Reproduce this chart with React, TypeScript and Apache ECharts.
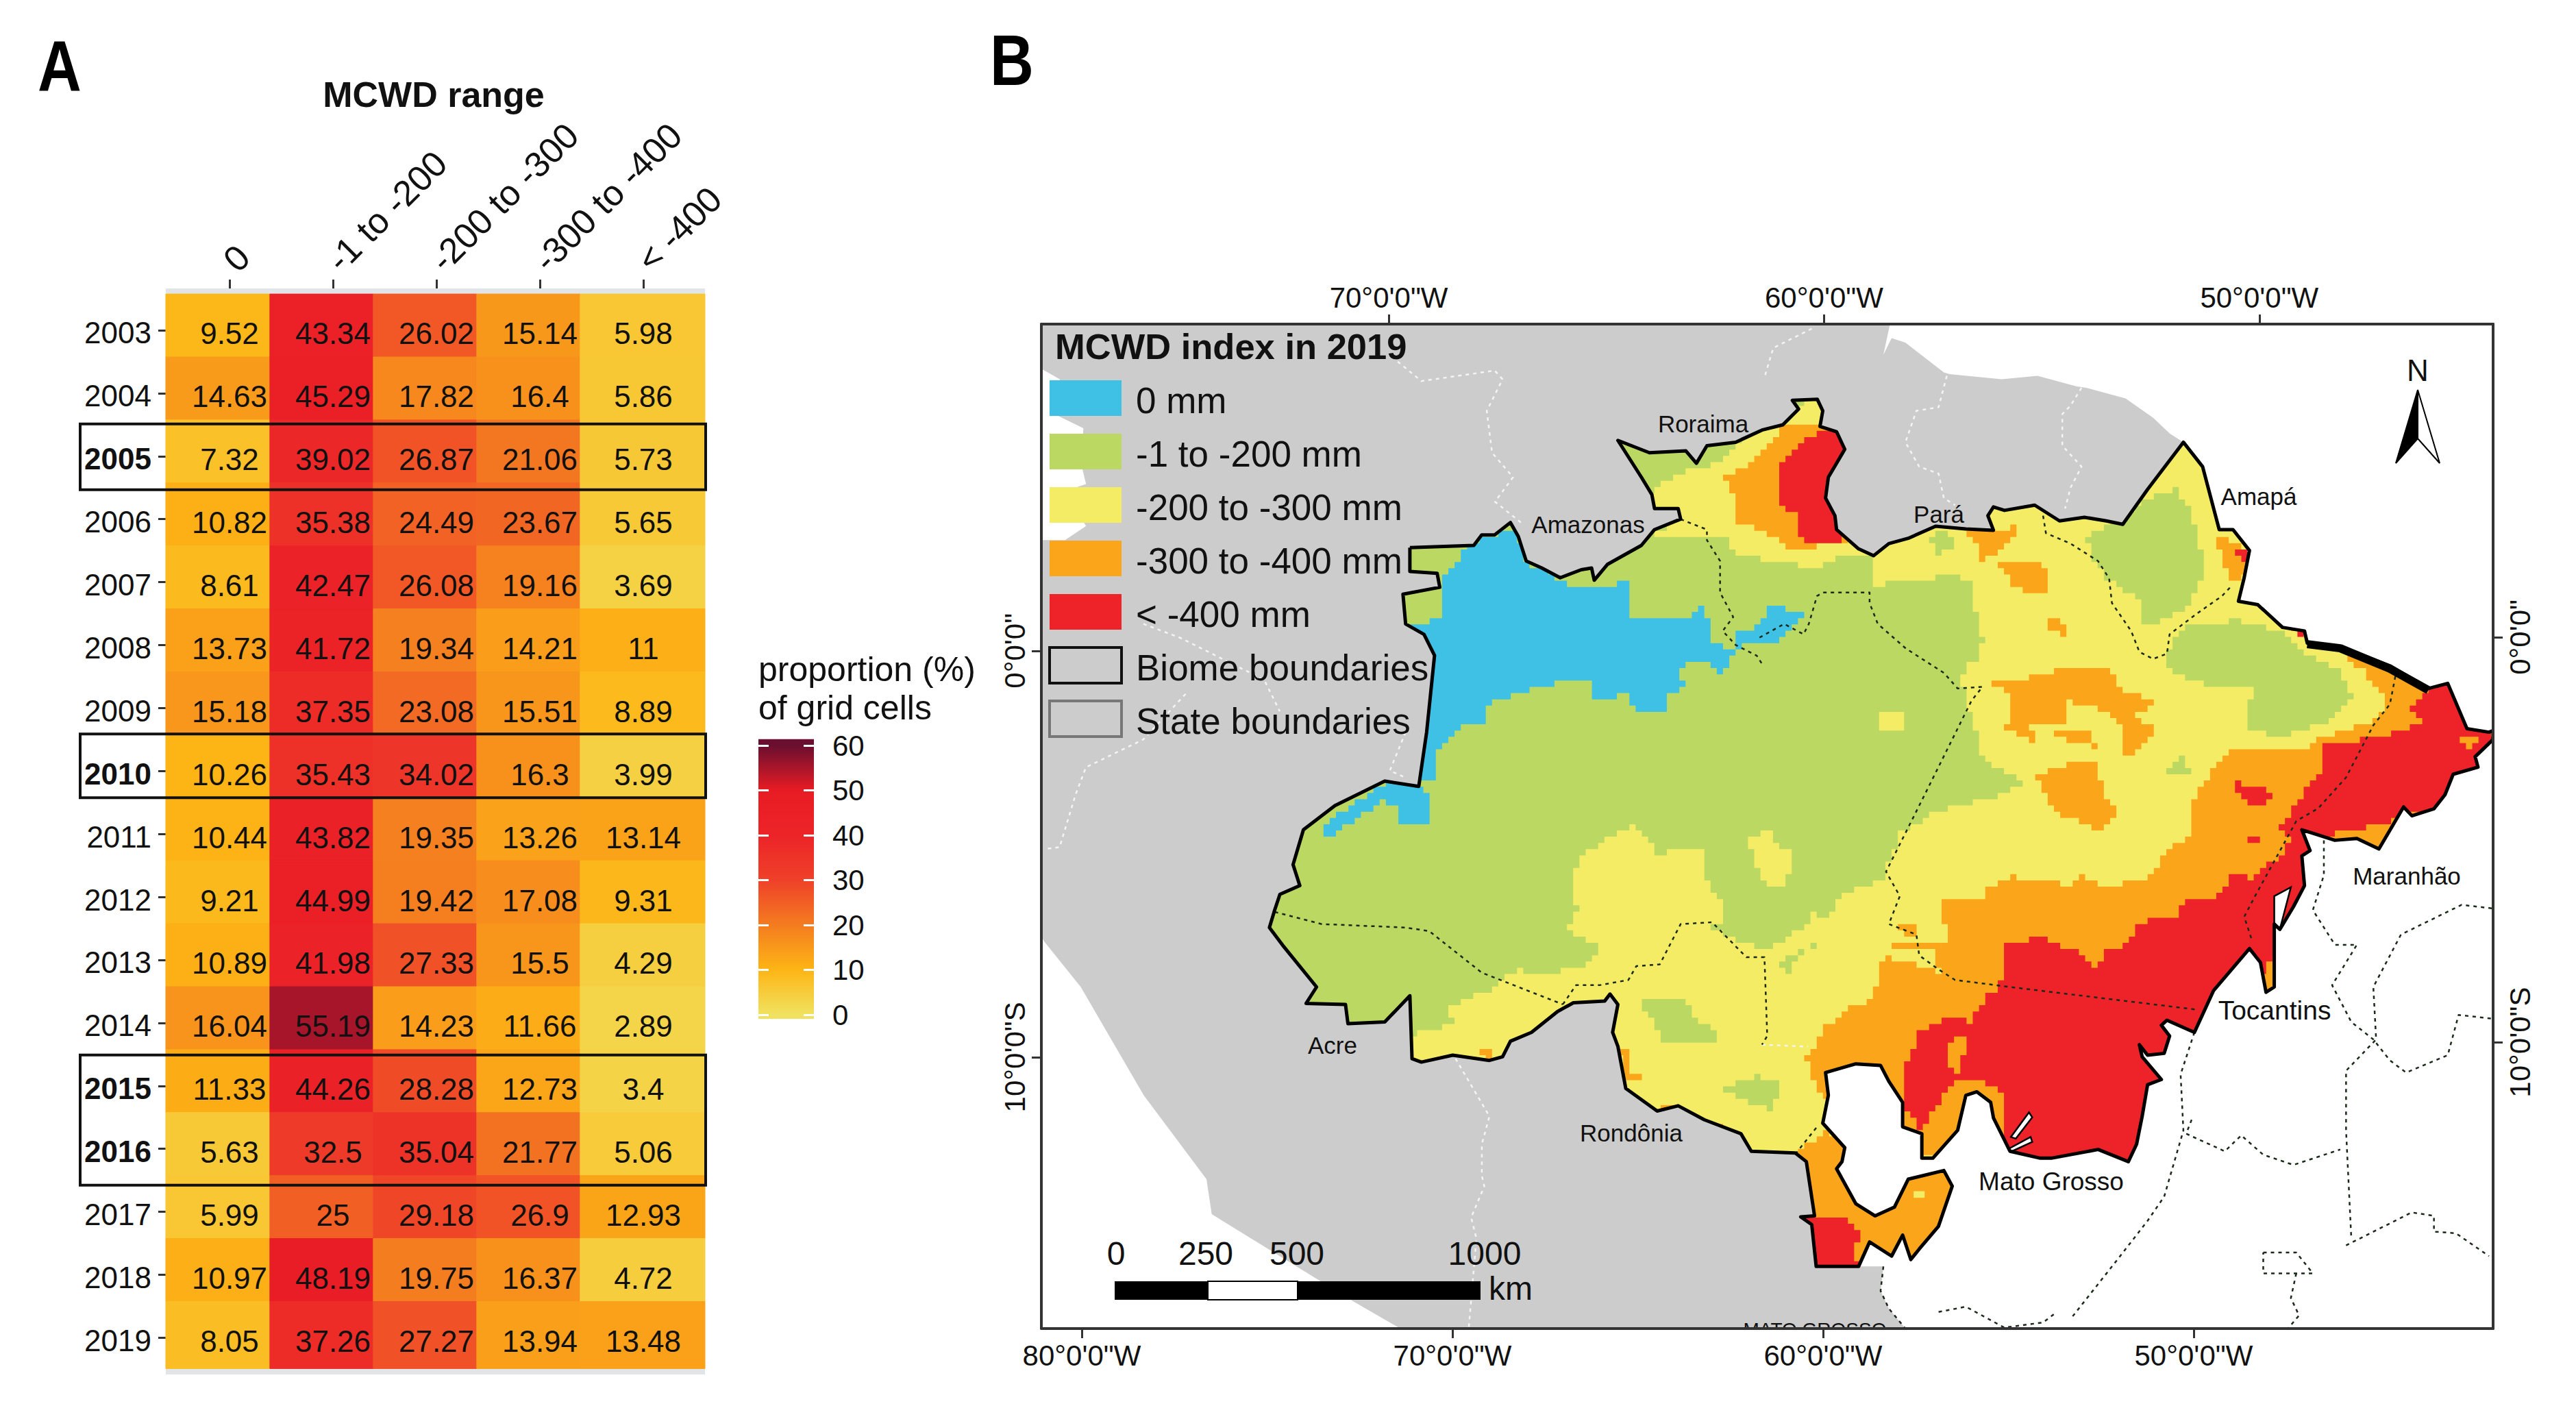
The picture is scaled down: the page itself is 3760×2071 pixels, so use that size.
import React, { useEffect, useRef } from "react";
import * as echarts from "echarts";

const FONT = "Liberation Sans";

// ---------- Panel A data ----------
const YEARS = ["2003","2004","2005","2006","2007","2008","2009","2010","2011","2012","2013","2014","2015","2016","2017","2018","2019"];
const RANGES = ["0","-1 to -200","-200 to -300","-300 to -400","< -400"];
const V0 = [9.52,14.63,7.32,10.82,8.61,13.73,15.18,10.26,10.44,9.21,10.89,16.04,11.33,5.63,5.99,10.97,8.05];
const V1 = [43.34,45.29,39.02,35.38,42.47,41.72,37.35,35.43,43.82,44.99,41.98,55.19,44.26,32.5,25,48.19,37.26];
const V2 = [26.02,17.82,26.87,24.49,26.08,19.34,23.08,34.02,19.35,19.42,27.33,14.23,28.28,35.04,29.18,19.75,27.27];
const V3 = [15.14,16.4,21.06,23.67,19.16,14.21,15.51,16.3,13.26,17.08,15.5,11.66,12.73,21.77,26.9,16.37,13.94];
const V4 = [5.98,5.86,5.73,5.65,3.69,11,8.89,3.99,13.14,9.31,4.29,2.89,3.4,5.06,12.93,4.72,13.48];
const BOLD_YEARS = ["2005","2010","2015","2016"];
const BOXED = [["2005","2005"],["2010","2010"],["2015","2016"]];
const BOX_PADS = [[47,49],[54,39],[45,53]];
const RAMP = ["#F0E260","#FDB515","#F47C20","#EF4129","#EC2428","#E81C24","#6A0F2F"];

// ---------- Panel B axes ----------
const TOP_LON = [-70,-60,-50];
const BOTTOM_LON = [-80,-70,-60,-50];
const LATS = [0,-10];

// ---------- Panel B traced regions (map units) ----------
const BIOME_NORTH = [[858.2,333.3],[897.1,331.9],[901.9,325.5],[909.8,325.5],[919.4,318],[924.2,326.5],[929,341.4],[938.5,345.7],[949.7,351.6],[962.5,346.7],[968.8,345.7],[970.4,353.1],[978.4,343.5],[999.1,331.9],[1007.1,322.3],[1023,315.9],[1021.5,309.5],[1007.1,309.5],[1005.5,301],[999.1,290.4],[984.8,268],[1004,275.5],[1026.2,274.4],[1032.6,281.9],[1039,271.2],[1056.5,269.1],[1072.5,261.7],[1085.2,258.5],[1094.8,248.9],[1091,243.6],[1106.2,243],[1109.5,250],[1107.8,259.5],[1117.9,262.7],[1122.9,273.4],[1112.9,290.4],[1111.2,303.1],[1116.9,313.8],[1117.9,322.3],[1131.3,334],[1140.4,338.2],[1149.7,330.8],[1161.5,327.6],[1178.2,320.2],[1196.6,321.9],[1213.4,322.7],[1210,313.8],[1213.4,308.5],[1220.1,310.6],[1238.5,307.4],[1253.6,317],[1268.7,314.8],[1282.1,317],[1292.1,319.1],[1307.2,297.8],[1329,269.1]];
const BIOME_EAST = [[1340.7,284],[1350.8,322.3],[1359.2,322.3],[1369.2,335],[1365.9,352],[1362.5,365.9],[1374.3,368],[1389.3,381.8],[1402.7,384],[1404.4,391.4],[1424.5,393.5],[1454.7,405.2],[1478.1,419],[1489.9,415.9],[1501.6,443.5],[1515,445.6],[1517.5,444.6],[1517.5,450],[1506.6,460.5],[1508.3,466.9],[1493.2,471.2],[1488.2,483.7],[1481.5,492.2],[1468.1,496.5],[1463,491.1],[1448,516.7],[1434.6,510.3],[1421.2,511.4],[1407.8,507.1],[1401.1,505],[1406.1,517.7],[1401.1,520.9],[1402.7,539],[1396,551.8],[1387.7,565.6],[1384.3,562.4],[1384.3,600.7],[1379.3,603.9],[1375.9,585.8],[1369.2,577.3],[1347.4,602.8],[1335.7,628.3],[1319,620.9],[1315.6,624],[1320.6,630.5],[1317.3,641.1],[1307.2,642.2],[1302.2,635.8],[1303.9,643.2],[1315.6,657],[1307.2,660.2],[1303.9,679.4],[1300.5,696.4],[1295.5,707],[1277.1,699.6],[1248.6,704.9],[1241.9,704.9],[1223.5,700.7],[1213.4,680.4],[1211.7,670.9],[1203.3,664.5],[1196.6,666.6],[1191.6,687.9],[1176.5,704.9],[1169.8,704.9],[1169.8,690],[1158.1,685.8],[1158.1,670.9],[1149.7,658.1],[1144.7,648.5],[1129.6,647.5],[1111.2,652.8],[1112.9,666.6],[1109.5,683.6],[1122.9,698.5],[1121.2,707],[1117.9,711.3],[1129.6,732.6],[1141.4,740],[1153.1,734.7],[1161.5,717.7],[1183.2,712.4],[1188.3,721.9],[1179.9,746.4],[1168.2,760.2],[1163.1,766.6],[1158.1,751.7],[1151.4,764.5],[1138,755.9],[1131.3,770.8]];
const BIOME_WEST = [[1105.5,770.8],[1102.8,745.3],[1096.1,740.6],[1104.5,740],[1099.5,707],[1092.8,701.7],[1066,700.7],[1059.7,690],[1037.4,681.5],[1021.5,673],[1008.7,676.2],[989.6,662.4],[984.8,636.8],[981.6,628.3],[984.8,611.3],[980,605],[976.8,609.2],[957.7,610.3],[948.1,615.6],[932.2,628.3],[919.4,633.7],[914.6,643.2],[906.6,645.4],[884.3,642.2],[865.2,646.4],[859.5,644.3],[858.2,606],[842.9,622],[820.5,623],[819,611.3],[795,610.7],[801.4,600.7],[780.7,575.2],[772.7,564.5],[775.9,553.9],[779.1,544.3],[791.2,539],[787.1,526.2],[793.4,505],[812.6,490.3],[842.9,475.4],[863.6,478.6],[868.4,445.6],[873.2,398.9],[866.8,386.1],[855.6,379.7],[854,361.6],[876.4,357.4],[874.8,348.9],[858.2,347.8]];
const GRAY_COAST = [[633.9,197.2],[1150.4,197.2],[1146.4,215.9],[1151.4,205.7],[1159.8,208.5],[1183.2,226.6],[1186.6,227.6],[1218.4,230.8],[1240.2,228.7],[1263.7,235],[1270.4,236.1],[1293.8,242.5],[1310.6,254.2],[1320.7,263.8]];
const GRAY_SOUTH = [[1146.4,770.8],[1144.7,785.7],[1149.7,796.4],[1159.8,808.6],[852.4,808.6],[823.7,792],[737.6,739],[734.4,717.7],[696.2,666.6],[657.9,600.7],[635.6,573],[633.9,570],[633.9,328.7],[648.3,328.7],[661.1,320.1],[648.3,298.9],[661.1,294.6],[658,281.9],[659.5,260.6],[642,252],[645.1,230.8],[633.9,224.4]];

const GREEN_PATCHES = [
  [[1270.4,326.5],[1307.2,303.1],[1324,296.8],[1334,315.9],[1339,332.9],[1340.7,352],[1334,369],[1307.2,381.8],[1300.5,362.7],[1283.8,352],[1273.7,339.3]],
  [[1317.3,394.6],[1330.7,379.7],[1360.8,377.6],[1387.7,384],[1397.7,395.7],[1421.2,407.4],[1432.9,426.5],[1417.8,439.3],[1391,447.8],[1365.9,443.5],[1371,418],[1340.7,415.9],[1320.6,405.2]],
  [[1317,471],[1327,461.6],[1334,471]],
  [[999,609],[1024.7,609],[1031,619.8],[1047,632.6],[1015,636.8],[1012,630.5]],
  [[1049,662],[1066,653.9],[1084,660],[1079,675],[1062.6,668.7]],
  [[1083,583.7],[1106,575],[1089,594]],
  [[1176,326],[1183,322],[1190,335],[1178,337]],
];
const YELLOW_MAIN = [[996,502.8],[964,519.9],[956,539],[961,556],[954.5,566.6],[976.8,579.4],[961,590],[938.5,592],[925.8,590],[906.6,602.8],[881.1,613.4],[884.3,624],[860.4,630.5],[850,660],[1100,720],[1530,700],[1530,300],[1400,300],[1330,260],[1140,300],[1120,240],[1060,255],[1060,271],[1047,282],[1028,286],[1008.7,296.8],[1000,310],[1023,316],[1008.7,326.5],[1037.4,326.5],[1053,328.7],[1055,337],[1079,341.4],[1100.5,345.7],[1123,336],[1140,339],[1140,356],[1160,353],[1190,350],[1200,356],[1201.7,373],[1206.7,390],[1203,401],[1193,414],[1200,435],[1207,465],[1233,477.6],[1220,483.7],[1183,494],[1158,507],[1146,535],[1123,545],[1113,560],[1101,555],[1100.5,562.4],[1078.9,577.3],[1059.7,573],[1042.2,562.4],[1050.1,558.1],[1050.1,545.4],[1035.8,532.6],[1037.4,515.6],[1012,519.9]];
const YELLOW_SPOTS = [
  [[1144.7,435],[1153,431.8],[1159.8,435],[1158,445.6],[1144.7,445.6]],
  [[1065,510],[1075,505],[1090,522],[1088,540],[1078,538],[1068,525]],
];
const ORANGE = [
  [[1047.5,290.4],[1059.3,284],[1076,271.2],[1084.4,258.5],[1104.5,258.5],[1126,260.6],[1126,290],[1123,328.7],[1092.8,336.1],[1076,322.3],[1056,317],[1057.6,301]],
  [[1198.3,324.4],[1213.4,323.3],[1225,319],[1227,326.5],[1218.4,335],[1206.7,342.5],[1205,328.7]],
  [[1216.8,341.4],[1243.6,343.5],[1246.9,359.5],[1233.5,360.6],[1223.5,354.2],[1220,347.8]],
  [[1245,375.5],[1257,379.7],[1257,387],[1247,379.7]],
  [[1349,325.5],[1361,330.8],[1367.5,347.8],[1361,355.2],[1354,343.5]],
  [[1211.7,415.9],[1240.2,411.6],[1257,405.2],[1283.8,405.2],[1290.5,422.3],[1310.6,424.4],[1308.9,431.8],[1297.2,432.9],[1312.3,445.6],[1300.5,460.5],[1290.5,456.3],[1292.2,439.3],[1277.1,430.8],[1257,426.5],[1257,439.3],[1233.5,441.4],[1240.2,452],[1220.1,443.5],[1225.1,428.6],[1220.1,418]],
  [[1250.3,445.6],[1273.7,443.5],[1275.4,454.2],[1260.3,452]],
  [[1240.2,471.2],[1257,464.8],[1273.7,464.8],[1283.8,490.3],[1290.5,494.3],[1280.4,505],[1257,496.5],[1245.2,483.7]],
  [[1427.9,398.9],[1444.6,418],[1453,428.6],[1444.6,439.3],[1407.8,452],[1404.4,457.3],[1359,457.3],[1344,473.3],[1339,484],[1334,490],[1334,509],[1317.3,519.9],[1310.6,533.7],[1285.4,540],[1267,530.5],[1260.3,538],[1247,536.9],[1225,532.6],[1213.4,540],[1206.7,546.4],[1183.2,546.4],[1181.6,558],[1186.6,573],[1175,582.6],[1180,591],[1148,581.5],[1143,596.4],[1139.7,609],[1123,615.6],[1111,627.3],[1099.5,645.4],[1106,664.5],[1120,680],[1160,700],[1300,720],[1500,600],[1530,460],[1490,405]],
  [[1107.8,687.9],[1129.6,696.4],[1150,716],[1190,705],[1195,750],[1166.5,770],[1133,775],[1096,775],[1096,705],[1092,702]],
  [[986,637],[993,637],[991,649.6],[999,656],[989,656]],
  [[1012,673],[1021,675],[1012,677]],
  [[902,639],[911.4,639],[906.6,645.4]],
  [[1043.8,685.8],[1059.7,691],[1056.5,693]],
  [[1154.8,562.4],[1166.5,561.3],[1166.5,568.8],[1156.4,567.7]],
  [[1151.4,575],[1180,574],[1180,577],[1151.4,578]],
];
const RED = [
  [[1092.8,269.1],[1107.8,260.6],[1123,260.6],[1126,273.4],[1119.6,290.4],[1119.6,328.7],[1106.2,330.8],[1092.8,323.3],[1094.4,311.6],[1082.7,304.2],[1082.7,279.7],[1091,277.6]],
  [[1478,422.3],[1468,432.9],[1474.8,441.4],[1444.6,449.9],[1412.8,452],[1414.5,466.9],[1402.7,484],[1394.4,498.6],[1387.7,506],[1394.4,511.4],[1387.7,523],[1372.6,534.7],[1357.5,530.5],[1354.1,544.3],[1330.7,549.6],[1325.7,558.1],[1303.9,561.3],[1297.2,573],[1283.8,579.4],[1277.1,590],[1270.4,581.5],[1257,577.3],[1246.9,570.9],[1220.1,573],[1218.4,596.4],[1210,609.2],[1200,622],[1183.2,617.7],[1178.2,625],[1166.5,626.2],[1168.2,636.8],[1158.1,653.9],[1158,675],[1168.2,687.9],[1176.5,675],[1188.3,659.2],[1206.7,658],[1218.4,666.6],[1218,705],[1300,715],[1340,640],[1400,560],[1410,510],[1490,490],[1520,450],[1510,430],[1490,410]],
  [[1097.8,740],[1118,740],[1133,749.6],[1129.6,764.5],[1131.3,775],[1103,775]],
  [[1359,475.4],[1369,479.7],[1377.6,479.7],[1384,481.8],[1381,490],[1377.6,492],[1369,488]],
  [[1369,508],[1381,507],[1372.6,514.5]],
  [[1361,334],[1369,335],[1367.5,341.4]],
  [[1394.4,381.8],[1402.7,381.8],[1402.7,387]],
];
const ORANGE_ON_RED = [
  [[1188.3,632.6],[1200,631.5],[1191.6,651.7],[1183.2,650.7]],
  [[1496.5,447.8],[1511.6,449.9],[1501.6,456.3]],
];
const YELLOW_ON_ORANGE = [
  [[1164.8,725],[1171.5,725],[1171.5,729],[1164.8,729]],
];
const BLUE = [
  [[919.4,322.3],[889.1,335],[889.1,343.5],[878,349.9],[878,377.6],[857.2,379.7],[855.6,392.5],[855.6,473.3],[866.8,473.3],[874.8,473.3],[874.8,456.3],[887.5,441.4],[903.5,439.3],[903.5,430.8],[919.4,422.3],[949.7,414.8],[965.6,415.9],[970.4,424.4],[991.2,423.3],[994.3,432.9],[1011.9,432.9],[1015.1,422.3],[1027.8,415.9],[1021.5,405.2],[1037.4,403.1],[1047,411.6],[1056.5,396.7],[1043.8,390.3],[1037.4,369.1],[1029.4,375.5],[991.2,375.5],[991.2,352.1],[980,358.4],[957.7,356.3],[949.7,351.6],[938.5,345.7],[929,341.4],[924,326]],
  [[1076,367],[1097.8,375.5],[1089.4,384],[1084.4,391.4],[1059.3,393.5],[1055.9,385],[1071,379.7]],
  [[800,505],[845,475],[865,478],[872,490],[870,500],[858,503],[850,497],[852,490],[842,488],[825,500],[815,510]],
  [[1404.4,392.5],[1406,393.5],[1401,403],[1399.4,402]],
];
const ISLANDS = [
  [[1384.3,545.4],[1394.4,540],[1387.7,565.6],[1384.3,562.4]],
  [[1235,677],[1224,692],[1227,693],[1237,680]],
  [[1236,692],[1223,699],[1224,701],[1237,695]],
];
const THICK_COAST = [[1404.4,392],[1424.5,394.5],[1454.7,407],[1478.1,420]];
const STATE_LINES_DARK = [
  [[1023,316],[1039,322.3],[1039,328.7],[1047,341.4],[1047,360.6],[1055,375.5],[1048.6,384],[1056.5,392.5],[1069.3,399],[1072.5,404]],
  [[1071,388],[1086,379.7],[1097.8,386],[1101,379.7],[1106,362.7],[1109.5,360.6],[1138,360.6],[1138,367],[1143,379.7],[1160,394.6],[1183.2,409.5],[1191.6,419],[1206.7,418],[1200,426.5],[1171.5,483.7],[1148,530.5],[1156.4,545.4],[1149.7,562.4],[1166.5,568.8],[1168.2,581.5],[1180,590],[1190,596.4],[1223.5,600.7],[1337.4,614.5]],
  [[776,555],[804.6,562.4],[855.6,564.5],[870,566.7],[902,592],[951.3,611.3]],
  [[951.3,611.3],[959.3,599.6],[973.6,599.6],[991.2,596.4],[996,588],[1010.3,586.9],[1023,562.4],[1042.2,561.3],[1063,582.6],[1074,582.6],[1075.7,630.5],[1072.5,635.8]],
  [[1092.8,702.4],[1106,685.8]],
  [[1243.6,313.8],[1245.3,324.4],[1260.3,330.8],[1277,341.4],[1283.8,352],[1285.5,367],[1297.2,384],[1302.2,396.7],[1310.6,401],[1319,397.8],[1320.6,386],[1337.4,373.3],[1352.5,362.7],[1357.5,357.4]],
  [[1458,411.6],[1454.7,428.6],[1444.6,441.4],[1427.9,473.3],[1411,492],[1397.7,499.7],[1372.6,545.4],[1366,558],[1371,573]],
  [[1414.5,511.4],[1414.5,532.6],[1407.8,553.9],[1421.2,575],[1434.6,575],[1419.5,599.6],[1431.2,622],[1444.6,632.6],[1454.7,645.4],[1464.6,652.8],[1489.9,642.2],[1496.5,617.7],[1517,620]],
  [[1516.7,552.8],[1498.3,550.7],[1461.4,568.8],[1444.6,600.7],[1446.3,632.6],[1428,651.7],[1428,688],[1431.2,753.8]],
  [[1335.7,628.3],[1327.3,653.9],[1329,688],[1317.3,728.3],[1307.2,743],[1290.5,764.5],[1260.3,802.8]],
  [[1334,681.5],[1330.7,690],[1354.2,700.7],[1364.2,691],[1377.6,702.8],[1396,709],[1424.5,699.6]],
  [[1428,758],[1468,737.9],[1481.5,740],[1481.5,749.6],[1494.9,750.6],[1515,764.5]],
  [[1377.6,762.3],[1397.7,762.3],[1407.8,775],[1377.6,775],[1377.6,762.3]],
  [[1397.7,775],[1394.4,790],[1399.4,800.6],[1392.7,808.5]],
  [[1180,798.5],[1196.6,795.3],[1220,808],[1243.6,804.9],[1252,798.5]],
  [[1146.4,770.8],[1144.7,785.7],[1149.7,796.4],[1159.8,808.6]],
];
const STATE_LINES_LIGHT = [
  [[850.8,220],[865.2,231.9],[909.8,225.5],[914.6,230.8],[905,250],[908.2,275.5],[921,290.4],[910,305.3],[925.8,318]],
  [[1102.8,200],[1079.4,211.7],[1074.3,228.7]],
  [[1185,228.7],[1180,247.8],[1166.5,250],[1159.8,269.1],[1168.2,284],[1180,288.2],[1183.2,303.1],[1190,307.4]],
  [[1267,236],[1260.3,246.8],[1255.3,252],[1255.3,271.2],[1267,284],[1260.3,296.8],[1257,309.5]],
  [[696,379.7],[718.5,388.2],[769.5,413.7],[779,432.9]],
  [[721.7,422.3],[696,450],[661,467],[654.7,483.7],[645,515.6],[635.6,516.7]],
  [[855.6,445.6],[846,469],[855.6,473.3]],
  [[886,644.3],[906.6,679.4],[902,696.4],[902,715.5],[903.5,722],[895.5,741],[898.7,753.8],[894,808.5]],
  [[1072.5,635.8],[1100.5,637]],
];

const LEGEND_ITEMS = [
  { label: "0 mm", color: "#3FC1E6" },
  { label: "-1 to -200 mm", color: "#BBD962" },
  { label: "-200 to -300 mm", color: "#F5EC66" },
  { label: "-300 to -400 mm", color: "#FBA61A" },
  { label: "< -400 mm", color: "#EE2329" },
  { label: "Biome boundaries", color: "#CCCCCC" },
  { label: "State boundaries", color: "#CCCCCC" },
];
const STATE_LABELS = [
  { t: "Roraima", x: 2486, y: 618, s: 35 },
  { t: "Amazonas", x: 2318, y: 765, s: 35 },
  { t: "Pará", x: 2830, y: 750, s: 35 },
  { t: "Amapá", x: 3297, y: 724, s: 35 },
  { t: "Maranhão", x: 3513, y: 1278, s: 35 },
  { t: "Tocantins", x: 3320, y: 1474, s: 39 },
  { t: "Mato Grosso", x: 2994, y: 1724, s: 37 },
  { t: "Acre", x: 1945, y: 1525, s: 35 },
  { t: "Rondônia", x: 2381, y: 1653, s: 35 },
];

const PIXEL = 3.8; // raster cell of the map, in map units
const snap = (v: number) => Math.round(v / PIXEL) * PIXEL;
function raster(points: number[][]) {
  const out: number[][] = [];
  let px = snap(points[0][0]), py = snap(points[0][1]);
  out.push([px, py]);
  for (let i = 1; i <= points.length; i++) {
    const a = points[i - 1], b = points[i % points.length];
    const n = Math.max(1, Math.ceil(Math.max(Math.abs(b[0] - a[0]), Math.abs(b[1] - a[1])) / PIXEL));
    for (let k = 1; k <= n; k++) {
      const nx = snap(a[0] + ((b[0] - a[0]) * k) / n), ny = snap(a[1] + ((b[1] - a[1]) * k) / n);
      if (nx !== px && ny !== py) out.push([nx, py]);
      if (nx !== px || ny !== py) out.push([nx, ny]);
      px = nx; py = ny;
    }
  }
  return out;
}

const txt = (t: string, x: number, y: number, fontSize: number, extra: any = {}, elem: any = {}) => ({
  type: "text", x, y, z: 60, silent: true, ...elem,
  style: { text: t, fontSize, fontFamily: FONT, fill: "#111", align: "left", verticalAlign: "middle", ...extra },
});

function polySeries(name: string, polys: number[][][], fill: string, extra: any = {}) {
  const shapes = extra.raster ? polys.map(raster) : polys;
  return {
    type: "custom", name, xAxisIndex: 4, yAxisIndex: 5, clip: true, silent: true, z: extra.z ?? 3,
    data: polys.map((p, i) => ({ value: [p[0][0], p[0][1], i] })),
    renderItem: (_: any, api: any) => ({
      type: "polygon",
      shape: { points: shapes[api.value(2)].map((q) => api.coord(q)) },
      style: { fill, stroke: extra.stroke ?? "none", lineWidth: extra.lineWidth ?? 0 },
    }),
  };
}
function lineSeries(name: string, lines: number[][][], stroke: string, lineWidth: number, lineDash: any, z = 5) {
  return {
    type: "custom", name, xAxisIndex: 4, yAxisIndex: 5, clip: true, silent: true, z,
    data: lines.map((p, i) => ({ value: [p[0][0], p[0][1], i] })),
    renderItem: (_: any, api: any) => ({
      type: "polyline",
      shape: { points: lines[api.value(2)].map((q) => api.coord(q)) },
      style: { stroke, lineWidth, lineDash, fill: "none", lineJoin: "round" },
    }),
  };
}

function buildOption() {
  const columns = [V0, V1, V2, V3, V4];
  const cells: number[][] = [];
  columns.forEach((col, c) => col.forEach((v, r) => cells.push([c, r, v])));

  const BIOME = [...BIOME_NORTH, ...BIOME_EAST, ...BIOME_WEST];
  const MAP_X = [633.9, 1517.5];
  const MAP_Y = [197.2, 808.6];
  const frame = [[MAP_X[0], MAP_Y[0]], [MAP_X[1], MAP_Y[0]], [MAP_X[1], MAP_Y[1]], [MAP_X[0], MAP_Y[1]], [MAP_X[0], MAP_Y[0]]];
  const rev = [...BIOME].reverse();
  const outside = [...frame, BIOME[0], ...rev, frame[0]];
  const gray = [
    ...GRAY_COAST,
    ...[...BIOME_NORTH].reverse(),
    ...[...BIOME_WEST].reverse(),
    BIOME_EAST[BIOME_EAST.length - 1],
    ...GRAY_SOUTH,
  ];

  const ramp = RAMP.map((color, i) => ({ offset: (61.4 - i * 10) / 62.3, color })).reverse();

  const lonAxis = (pos: string, min: number, max: number, vals: number[]) => ({
    type: "value", gridIndex: 2, position: pos, min, max, z: 10, silent: true,
    splitLine: { show: false },
    axisLine: { show: true, onZero: false, lineStyle: { color: "#333", width: 4 } },
    axisTick: { show: true, length: 14, customValues: vals, lineStyle: { color: "#333", width: 3 } },
    axisLabel: { show: true, customValues: vals, margin: 18, fontSize: 42, fontFamily: FONT, color: "#111",
      formatter: (v: number) => `${Math.abs(v)}°0'0"W` },
  });
  const latAxis = (pos: string, min: number, max: number) => ({
    type: "value", gridIndex: 2, position: pos, min, max, z: 10, silent: true,
    splitLine: { show: false },
    axisLine: { show: true, onZero: false, lineStyle: { color: "#333", width: 4 } },
    axisTick: { show: true, length: 14, customValues: LATS, lineStyle: { color: "#333", width: 3 } },
    axisLabel: { show: true, customValues: LATS, rotate: 90, margin: 18, fontSize: 42, fontFamily: FONT, color: "#111",
      formatter: (v: number) => (v === 0 ? `0°0'0"` : `${Math.abs(v)}°0'0"S`) },
  });

  return {
    animation: false,
    backgroundColor: "#fff",
    textStyle: { fontFamily: FONT },
    grid: [
      { left: 259.5, top: 436, width: 755, height: 1562.3, containLabel: false },
      { left: 1107, top: 1088, width: 81, height: 393 },
      { left: 1520, top: 473, width: 2119, height: 1466 },
      { left: 1520, top: 473, width: 2119, height: 1466 },
    ],
    visualMap: { show: false, type: "continuous", min: 0, max: 60, dimension: 2, seriesIndex: 0, inRange: { color: RAMP } },
    xAxis: [
      { type: "category", gridIndex: 0, data: RANGES, position: "top", offset: 15, silent: true,
        axisLine: { show: false },
        axisTick: { show: true, alignWithLabel: true, length: 13, lineStyle: { color: "#333", width: 3 } },
        axisLabel: { interval: 0, rotate: -45, margin: 34, fontSize: 52, fontFamily: FONT, color: "#111" },
        splitLine: { show: false } },
      { type: "value", gridIndex: 1, min: 0, max: 1, show: false },
      lonAxis("top", -77.98, -44.63, TOP_LON),
      lonAxis("bottom", -81.09, -41.92, BOTTOM_LON),
      { type: "value", gridIndex: 3, min: MAP_X[0], max: MAP_X[1], show: false },
    ],
    yAxis: [
      { type: "category", gridIndex: 0, data: YEARS, inverse: true, position: "left", offset: 17.5, silent: true,
        axisLine: { show: false },
        axisTick: { show: true, alignWithLabel: true, length: 11, lineStyle: { color: "#333", width: 3 } },
        axisLabel: { interval: 0, margin: 21, fontSize: 44, fontFamily: FONT, color: "#111", padding: [8, 0, 0, 0],
          formatter: (v: string) => (BOLD_YEARS.includes(v) ? `{b|${v}}` : v),
          rich: { b: { fontWeight: "bold", fontSize: 44, fontFamily: FONT, color: "#111" } } },
        splitLine: { show: false } },
      { type: "value", gridIndex: 1, position: "left", min: 0, max: 60, interval: 10, z: 10, silent: true,
        axisLine: { show: false }, splitLine: { show: false }, axisLabel: { show: false },
        axisTick: { show: true, inside: true, length: 15, lineStyle: { color: "#fff", width: 3 } } },
      { type: "value", gridIndex: 1, position: "right", min: 0, max: 60, interval: 10, z: 10, silent: true,
        axisLine: { show: false }, splitLine: { show: false },
        axisLabel: { show: true, margin: 27, fontSize: 42, fontFamily: FONT, color: "#111", padding: [8, 0, 0, 0] },
        axisTick: { show: true, inside: true, length: 15, lineStyle: { color: "#fff", width: 3 } } },
      latAxis("left", -16.68, 8.04),
      latAxis("right", -17.07, 7.73),
      { type: "value", gridIndex: 3, inverse: true, min: MAP_Y[0], max: MAP_Y[1], show: false },
    ],
    series: [
      {
        type: "custom", name: "proportion", xAxisIndex: 0, yAxisIndex: 0, clip: false, silent: true, z: 2,
        encode: { x: 0, y: 1 },
        data: cells,
        renderItem: (_: any, api: any) => {
          const c = api.value(0), r = api.value(1), v = api.value(2);
          const [cx, cy] = api.coord([c, r]);
          const bw = api.size([1, 0])[0], bh = api.size([0, 1])[1];
          const left = cx - (c === 0 ? 0.616 : 0.61) * bw;
          const right = cx + (c === RANGES.length - 1 ? 0.596 : 0.39) * bw;
          const top = cy - 0.575 * bh, bottom = cy + (r === YEARS.length - 1 ? 0.49 : 0.425) * bh;
          const color = api.visual("color");
          return {
            type: "group",
            children: [
              { type: "rect", shape: { x: left, y: top, width: right - left, height: bottom - top }, style: { fill: color, stroke: color, lineWidth: 1 } },
              { type: "text", style: { text: String(v), x: cx, y: cy + 5, align: "center", verticalAlign: "middle", fontSize: 44, fontFamily: FONT, fill: "#111" }, z2: 5 },
            ],
          };
        },
      },
      {
        type: "custom", name: "boxed years", xAxisIndex: 0, yAxisIndex: 0, clip: false, silent: true, z: 4,
        data: BOXED.map(([a, b], i) => [0, YEARS.indexOf(a), YEARS.indexOf(b), i]),
        encode: { x: 0, y: 1 },
        renderItem: (_: any, api: any) => {
          const [cx, cy0] = api.coord([0, api.value(1)]);
          const [, cy1] = api.coord([0, api.value(2)]);
          const pad = BOX_PADS[api.value(3)];
          const top = cy0 - pad[0], bottom = cy1 + pad[1];
          return { type: "rect", shape: { x: cx - 218, y: top, width: 913, height: bottom - top }, style: { fill: "none", stroke: "#111", lineWidth: 4 } };
        },
      },
      {
        type: "custom", name: "colorbar", xAxisIndex: 1, yAxisIndex: 1, clip: false, silent: true, z: 2,
        data: [[0, 61.4, 1, -0.9]],
        renderItem: (_: any, api: any) => {
          const [x0, y0] = api.coord([api.value(0), api.value(1)]);
          const [x1, y1] = api.coord([api.value(2), api.value(3)]);
          return { type: "rect", shape: { x: x0, y: y0, width: x1 - x0, height: y1 - y0 },
            style: { fill: new echarts.graphic.LinearGradient(0, 0, 0, 1, ramp) } };
        },
      },
      polySeries("-1 to -200 mm", [BIOME], "#BBD962", { z: 3 }),
      polySeries("-200 to -300 mm", [YELLOW_MAIN], "#F5EC66", { z: 3, raster: true }),
      polySeries("-1 to -200 mm patches", GREEN_PATCHES, "#BBD962", { z: 3, raster: true }),
      polySeries("-200 to -300 mm spots", YELLOW_SPOTS, "#F5EC66", { z: 3, raster: true }),
      polySeries("-300 to -400 mm", ORANGE, "#FBA61A", { z: 3, raster: true }),
      polySeries("< -400 mm", RED, "#EE2329", { z: 3, raster: true }),
      polySeries("-300 to -400 mm patches", ORANGE_ON_RED, "#FBA61A", { z: 3, raster: true }),
      polySeries("-200 to -300 mm specks", YELLOW_ON_ORANGE, "#F5EC66", { z: 3 }),
      polySeries("0 mm", BLUE, "#3FC1E6", { z: 3, raster: true }),
      polySeries("outside", [outside], "#fff", { z: 4 }),
      polySeries("neighbours", [gray], "#CCCCCC", { z: 4 }),
      polySeries("channels", ISLANDS, "#fff", { z: 5, stroke: "#000", lineWidth: 2.5 }),
      lineSeries("state lines light", STATE_LINES_LIGHT, "#F4F4F4", 2.5, [5, 6], 5),
      lineSeries("state lines", STATE_LINES_DARK, "#1a2a1a", 2.5, [5, 6], 5),
      lineSeries("biome", [[...BIOME, BIOME[0]]], "#000", 5, "solid", 6),
      lineSeries("biome coast", [THICK_COAST], "#000", 12, "solid", 6),
    ],
    graphic: { elements: [
      txt("A", 55, 96, 104, { fontWeight: "bold", fill: "#000" }, { scaleX: 0.85 }),
      txt("B", 1445, 88, 104, { fontWeight: "bold", fill: "#000" }, { scaleX: 0.85 }),
      txt("MCWD range", 633, 138, 52, { fontWeight: "bold", align: "center" }),
      { type: "rect", z: 1, silent: true, shape: { x: 242, y: 421, width: 787, height: 10 }, style: { fill: "#E2E5E8" } },
      { type: "rect", z: 1, silent: true, shape: { x: 242, y: 1996, width: 787, height: 10 }, style: { fill: "#E2E5E8" } },
      txt("proportion (%)", 1107, 977, 50),
      txt("of grid cells", 1107, 1033, 50),
      // map legend
      txt("MCWD index in 2019", 1540, 505, 52.5, { fontWeight: "bold" }),
      ...LEGEND_ITEMS.map((it, i) => ({
        type: "rect", z: 60, silent: true,
        shape: { x: 1532, y: 555 + i * 78, width: 105, height: 52 },
        style: { fill: it.color, stroke: i === 5 ? "#111" : i === 6 ? "#777" : "none", lineWidth: i >= 5 ? 4 : 0 },
      })),
      ...LEGEND_ITEMS.map((it, i) => txt(it.label, 1658, 584 + i * 78, 53)),
      // state labels
      ...STATE_LABELS.map((l) => txt(l.t, l.x, l.y, l.s, { align: "center" })),
      // clipped state name at the lower frame
      txt("MATO GROSSO", 2649, 1940, 28, { align: "center" }, { z: 6 }),
      { type: "rect", z: 7, silent: true, shape: { x: 2500, y: 1941, width: 300, height: 16 }, style: { fill: "#fff" } },
      // north arrow
      txt("N", 3529, 540, 44, { align: "center" }),
      { type: "polygon", z: 60, silent: true, shape: { points: [[3529, 569], [3497, 676], [3529, 640]] }, style: { fill: "#000", stroke: "#000", lineWidth: 2 } },
      { type: "polygon", z: 60, silent: true, shape: { points: [[3529, 569], [3561, 676], [3529, 640]] }, style: { fill: "#fff", stroke: "#000", lineWidth: 2 } },
      // scale bar
      { type: "rect", z: 60, silent: true, shape: { x: 1627, y: 1870, width: 136, height: 27 }, style: { fill: "#000" } },
      { type: "rect", z: 60, silent: true, shape: { x: 1763, y: 1870, width: 131, height: 27 }, style: { fill: "#fff", stroke: "#000", lineWidth: 2 } },
      { type: "rect", z: 60, silent: true, shape: { x: 1894, y: 1870, width: 267, height: 27 }, style: { fill: "#000" } },
      txt("0", 1629, 1829, 48, { align: "center" }),
      txt("250", 1760, 1829, 48, { align: "center" }),
      txt("500", 1893, 1829, 48, { align: "center" }),
      txt("1000", 2167, 1829, 48, { align: "center" }),
      txt("km", 2173, 1880, 48),
    ] },
  };
}

export default function App() {
  const ref = useRef<HTMLDivElement>(null);
  useEffect(() => {
    const chart = echarts.init(ref.current!, undefined, { renderer: "svg" });
    chart.setOption(buildOption() as any);
    return () => chart.dispose();
  }, []);
  return <div ref={ref} style={{ position: "fixed", left: 0, top: 0, width: 3760, height: 2071 }} />;
}
